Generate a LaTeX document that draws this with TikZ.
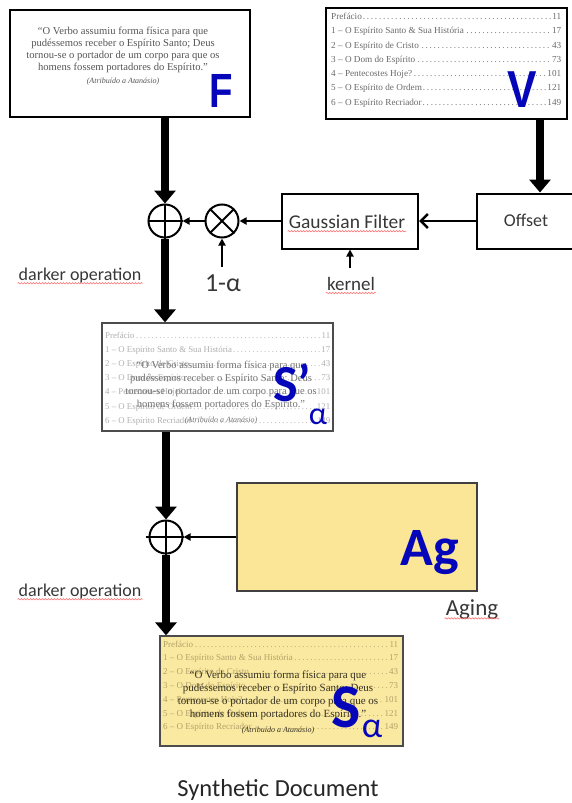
\documentclass[tikz,border=0pt]{standalone}
\usepackage{graphicx}
\usepackage{fontspec}
\setmainfont{Liberation Serif}
\newfontfamily\carl{Carlito}
\newfontfamily\lsans{Liberation Sans}
\usetikzlibrary{arrows.meta,decorations.pathmorphing}
\definecolor{lblue}{RGB}{5,5,185}
\definecolor{agyellow}{RGB}{250,230,150}
\definecolor{syellow}{RGB}{250,233,160}
\definecolor{qgray}{RGB}{85,85,85}
\definecolor{tgray}{RGB}{105,105,105}
\definecolor{fgray}{RGB}{175,175,175}
\definecolor{mgray}{RGB}{115,115,115}
\definecolor{olivet}{RGB}{178,162,105}
\definecolor{qdark}{RGB}{55,50,35}
\definecolor{lbl}{RGB}{55,55,55}
\newcommand{\tocl}[3]{\hbox to #1{#2\dotfill#3}}
\newcommand{\toctext}[2]{\vtop{\baselineskip=#2\relax\lineskiplimit=-20pt
\tocl{#1}{Prefácio}{11}%
\tocl{#1}{1 – O Espírito Santo \& Sua História}{17}%
\tocl{#1}{2 – O Espírito de Cristo}{43}%
\tocl{#1}{3 – O Dom do Espírito}{73}%
\tocl{#1}{4 – Pentecostes Hoje?}{101}%
\tocl{#1}{5 – O Espírito de Ordem}{121}%
\tocl{#1}{6 – O Espírito Recriador}{149}}}
\newcommand{\quotetext}{“O Verbo assumiu forma física para que\\pudéssemos receber o Espírito Santo; Deus\\tornou-se o portador de um corpo para que os\\homens fossem portadores do Espírito.”\\[2pt]{\fontsize{8}{11}\selectfont\itshape (Atribuído a Atanásio)}}
\begin{document}
\begin{tikzpicture}[x=1pt,y=-1pt,
  bigarrow/.style={line width=8pt,-{Triangle[width=21pt,length=13pt]}},
  thinarrow/.style={line width=2pt,-{Triangle[width=7pt,length=7pt]}},
  sumnode/.style={circle,draw,line width=2pt,minimum size=33pt,inner sep=0},
  lbl/.style={font=\carl\fontsize{18}{18}\selectfont,text=lbl,inner sep=1pt},
  squig/.style={draw=red!55,line width=0.6pt,decorate,decoration={snake,amplitude=0.7pt,segment length=3pt}},
  bigletter/.style={text=lblue,inner sep=0}]
\useasboundingbox (0,0) rectangle (571,803);
% F box
\node[draw,line width=2pt,minimum width=240pt,minimum height=107pt,inner sep=0] (Fbox) at (130,63.5) {};
\node[anchor=north,align=center,font=\fontsize{10.6}{11.8}\selectfont,text=qgray,inner sep=0] (Fq) at (123,27) {\quotetext};
\node[bigletter,anchor=base,font=\lsans\bfseries\fontsize{48}{48}\selectfont] (Fl) at (221,107) {\scalebox{0.8}[1]{F}};
% V box
\node[draw,line width=2.5pt,minimum width=241pt,minimum height=111pt,inner sep=0] (Vbox) at (446.5,63.5) {};
\node[anchor=base west,inner sep=0,font=\fontsize{9.2}{14.3}\selectfont,text=tgray] (Vt) at (331,19.5) {\toctext{230pt}{14.3pt}};
\node[bigletter,anchor=base,font=\lsans\bfseries\fontsize{52}{52}\selectfont] (Vl) at (522,107) {\scalebox{0.85}[1]{V}};
% Offset and Gaussian filter
\node[draw,line width=2pt,minimum width=104pt,minimum height=55pt,inner sep=0] (Off) at (529,221) {};
\node[font=\carl\fontsize{18}{18}\selectfont,text=lbl] (Offt) at (526,220) {Offset};
\node[draw,line width=2pt,minimum width=136pt,minimum height=55pt,inner sep=0] (GF) at (350,221) {};
\node[font=\carl\fontsize{19.5}{19.5}\selectfont,text=lbl,inner sep=1pt] (GFt) at (347,222) {Gaussian Filter};
% sums
\node[sumnode] (S1) at (165,221) {};
\draw[line width=2pt] (S1.north)--(S1.south) (S1.west)--(S1.east);
\node[sumnode] (M1) at (222,221) {};
\draw[line width=2pt] (M1.north west)--(M1.south east) (M1.north east)--(M1.south west);
\coordinate (vo) at (540,0);
\draw[bigarrow] (Fbox.south -| S1.north) -- (S1.north);
\draw[bigarrow] (Vbox.south -| vo) -- (Off.north -| vo);
\draw[line width=2.5pt,-{Straight Barb[length=7pt,width=14pt]}] (Off.west) -- (GF.east);
\draw[thinarrow] (GF.west) -- (M1.east);
\draw[thinarrow] (M1.west) -- (S1.east);
\coordinate (alpha) at (222,267);
\draw[thinarrow] (alpha) -- (M1.south);
\node[font=\carl\fontsize{26}{26}\selectfont,text=lbl] (alab) at (223,283) {1-α};
\coordinate (kern) at (350,268);
\draw[thinarrow] (kern) -- (GF.south);
\node[font=\carl\fontsize{19}{19}\selectfont,text=lbl,inner sep=1pt] (klab) at (351,284) {kernel};
\node[lbl] (d1) at (80,276) {darker operation};
% S' box
\node[draw=black!70,line width=1.3pt,fill=white,minimum width=231pt,minimum height=108pt,inner sep=0] (Spbox) at (217.5,377) {};
\draw[bigarrow] (S1.south) -- (Spbox.north -| S1.south);
\node[anchor=base west,inner sep=0,font=\fontsize{8.8}{14.2}\selectfont,text=fgray] (Spt) at (105,338) {\toctext{225pt}{14.2pt}};
\node[anchor=north,align=center,font=\fontsize{10.5}{13}\selectfont,text=mgray,inner sep=0] (Spq) at (221,361) {\quotetext};
\node[bigletter,anchor=base,font=\carl\bfseries\fontsize{52}{52}\selectfont] (Spl) at (292,401) {S’};
\node[bigletter,anchor=base,font=\carl\fontsize{32}{32}\selectfont] (Spa) at (318,424) {α};
% second sum and aging
\node[sumnode] (S2) at (166,537) {};
\draw[line width=2pt] (S2.north)--(S2.south) ([xshift=-3pt]S2.west)--(S2.east);
\draw[bigarrow] (Spbox.south -| S2.north) -- (S2.north);
\node[draw=black!75,line width=1.2pt,fill=agyellow,minimum width=240pt,minimum height=108pt,inner sep=0] (Ag) at (357,537) {};
\node[bigletter,anchor=base,font=\carl\bfseries\fontsize{54}{54}\selectfont] (Agl) at (430,565) {Ag};
\draw[thinarrow] (Ag.west) -- (S2.east);
\node[font=\carl\fontsize{23}{23}\selectfont,text=lbl,inner sep=1pt] (aging) at (472,610) {Aging};
\node[lbl] (d2) at (80,592) {darker operation};
% S box
\node[draw=black!70,line width=1.3pt,fill=syellow,minimum width=243pt,minimum height=110pt,inner sep=0] (Sbox) at (281.5,691) {};
\draw[bigarrow] (S2.south) -- (Sbox.north -| S2.south);
\node[anchor=base west,inner sep=0,font=\fontsize{9}{13.8}\selectfont,text=olivet] (St) at (163,647) {\toctext{235pt}{13.8pt}};
\node[anchor=north,align=center,font=\fontsize{11}{13}\selectfont,text=qdark,inner sep=0] (Sq) at (278,671) {\quotetext};
\node[bigletter,anchor=base,font=\carl\bfseries\fontsize{62}{62}\selectfont] (Sl) at (346,727) {S};
\node[bigletter,anchor=base,font=\carl\fontsize{36}{36}\selectfont] (Sa) at (372,737) {α};
\node[font=\carl\fontsize{24.5}{24.5}\selectfont,text=black!85] (syn) at (278,790) {Synthetic Document};
% spell-check underlines
\foreach \n in {d1,d2,GFt,klab,aging}
  \draw[squig] ([yshift=-2.5pt]\n.base west) -- ([yshift=-2.5pt]\n.base east);
\end{tikzpicture}
\end{document}
